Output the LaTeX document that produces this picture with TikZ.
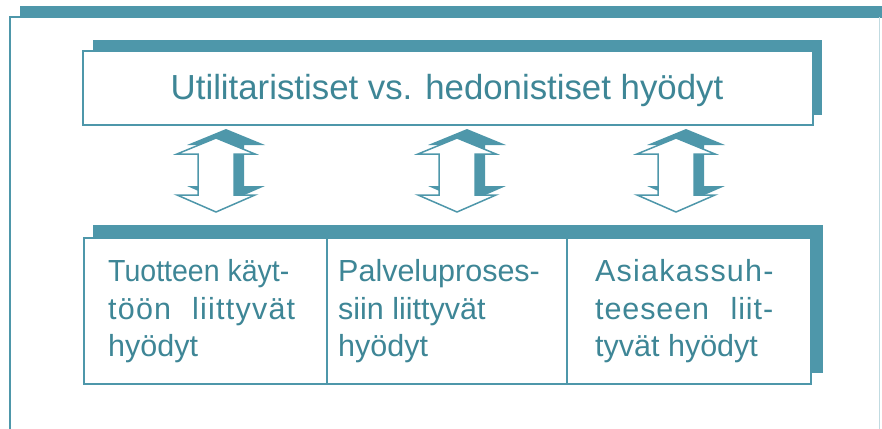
\documentclass[tikz,border=0pt]{standalone}
\usepackage{fontspec}
\setmainfont{Liberation Sans}
\usepackage{calc}
\usepackage{graphicx}
\definecolor{tealA}{RGB}{78,151,170}
\definecolor{tealT}{RGB}{62,134,150}
\tikzset{
  shadowfill/.style={fill=tealA},
  whitebox/.style={draw=tealA, fill=white, line width=1.8pt, inner sep=0pt, anchor=north west},
  divider/.style={draw=tealA, line width=1.8pt},
  bigtext/.style={font=\fontsize{34.8}{40}\selectfont, text=tealT, inner sep=0pt, anchor=base},
  celltext/.style={font=\fontsize{30.5}{36}\selectfont, text=tealT, inner sep=0pt, anchor=base west},
  arrowshadow/.style={fill=tealA},
  arrowbody/.style={fill=white, draw=tealA, line width=1.5pt, line join=miter},
}
\begin{document}
\begin{tikzpicture}[x=1pt,y=-1pt]
\useasboundingbox (0,0) rectangle (882,428);
% outer frame
\fill[shadowfill] (20,6) rectangle (882,17);
\draw[tealA, line width=2pt] (10,430) -- (10,17) -- (882,17);
\draw[tealA!35, line width=1pt] (879,17) -- (879,430);
% top box
\fill[shadowfill] (93,40) rectangle (822,115);
\node[whitebox, minimum width=730pt, minimum height=74pt] (top) at (82,50) {};
\node[bigtext] (toptext) at (447,99) {Utilitaristiset vs. hedonistiset hyödyt};
% arrows
\foreach \cx in {216,457,676}{
  \fill[arrowshadow, shift={(\cx+10,129)}] (0,0) -- (39,16) -- (18,16) -- (18,57) -- (39,57) -- (0,74) -- (-39,57) -- (-18,57) -- (-18,16) -- (-39,16) -- cycle;
  \filldraw[arrowbody, shift={(\cx,138)}] (0,0) -- (39,16) -- (18,16) -- (18,57) -- (39,57) -- (0,74) -- (-39,57) -- (-18,57) -- (-18,16) -- (-39,16) -- cycle;
}
% bottom box
\fill[shadowfill] (93,225) rectangle (823,373);
\node[whitebox, minimum width=727pt, minimum height=146pt] (bottom) at (83,237) {};
\coordinate (d1t) at (327,237); \coordinate (d1b) at (327,383);
\coordinate (d2t) at (567,237); \coordinate (d2b) at (567,383);
\draw[divider] (d1t) -- (d1b);
\draw[divider] (d2t) -- (d2b);
% cell texts
\node[celltext] (c1l1) at (108,281) {\scalebox{0.935}[1]{Tuotteen käyt-}};
\node[celltext] (c1l2) at (108,319) {\addfontfeature{LetterSpace=4}\makebox[187pt][s]{töön liittyvät}};
\node[celltext] (c1l3) at (108,356) {hyödyt};
\node[celltext] (c2l1) at (338,281) {Palveluproses-};
\node[celltext] (c2l2) at (338,319) {siin liittyvät};
\node[celltext] (c2l3) at (338,356) {hyödyt};
\node[celltext] (c3l1) at (595,281) {\addfontfeature{LetterSpace=4}Asiakassuh-};
\node[celltext] (c3l2) at (595,319) {\addfontfeature{LetterSpace=3}\makebox[178pt][s]{teeseen liit-}};
\node[celltext] (c3l3) at (595,356) {tyvät hyödyt};
\end{tikzpicture}
\end{document}
